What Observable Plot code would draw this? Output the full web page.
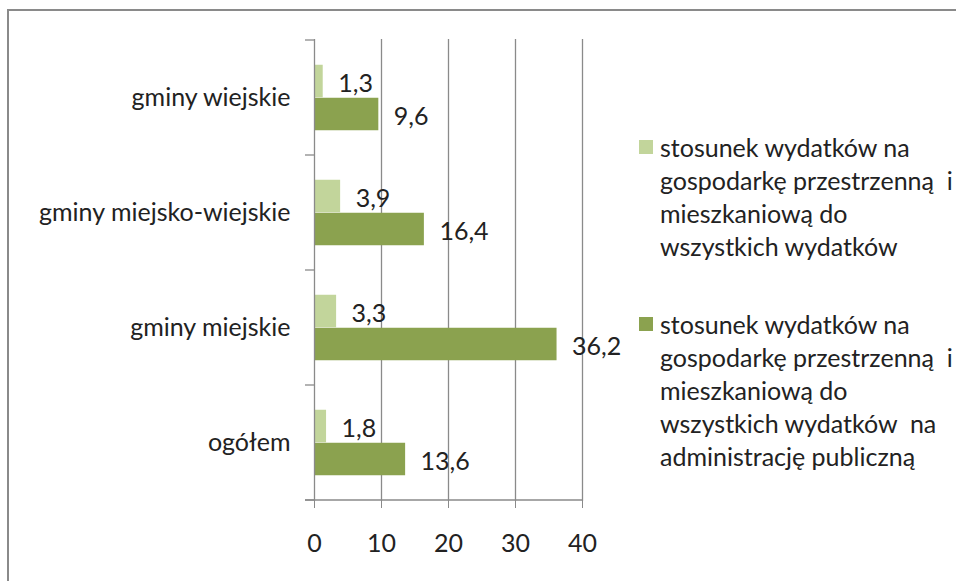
<!DOCTYPE html>
<html>
<head>
<meta charset="utf-8">
<script src="https://cdn.jsdelivr.net/npm/d3@7"></script>
<script src="https://cdn.jsdelivr.net/npm/@observablehq/plot@0.6"></script>
<style>
  html, body { margin: 0; padding: 0; background: #fff; }
  #wrap { position: relative; width: 956px; height: 581px; overflow: hidden; font-family: Lato, "Open Sans", sans-serif; }
  #border { position: absolute; left: 7px; top: 9px; width: 1000px; height: 700px; border-left: 2px solid #8a8a8a; border-top: 2px solid #8a8a8a; }
  #chart { position: absolute; left: 0; top: 0; }
  .legend { position: absolute; left: 639px; font-size: 25px; line-height: 33px; color: #222; }
  .legend .sw { position: absolute; left: 0; top: 9px; width: 14px; height: 14px; }
  .legend .tx { position: absolute; left: 21px; top: 0; white-space: pre; }
</style>
</head>
<body>
<div id="wrap">
  <div id="border"></div>
  <div id="chart"></div>
</div>
<script>
// ---- data ----
const categories = ["gminy wiejskie", "gminy miejsko-wiejskie", "gminy miejskie", "ogółem"];
const seriesLight = [1.3, 3.9, 3.3, 1.8];   // do wszystkich wydatków
const seriesDark  = [9.6, 16.4, 36.2, 13.6]; // do wydatków na administrację publiczną
const xTicks = [0, 10, 20, 30, 40];
const seriesLabels = [
  ["stosunek wydatków na", "gospodarkę przestrzenną  i", "mieszkaniową do", "wszystkich wydatków"],
  ["stosunek wydatków na", "gospodarkę przestrzenną  i", "mieszkaniową do", "wszystkich wydatków  na", "administrację publiczną"]
];
const colors = ["#c2d59b", "#8ba24f"];

const fmt = v => v.toFixed(1).replace(".", ",");
const light = categories.map((c, i) => ({category: c, value: seriesLight[i]}));
const dark  = categories.map((c, i) => ({category: c, value: seriesDark[i]}));

const W = 956, H = 581;
const ml = 314, mr = 374, mt = 39, mb = 80;
const band = (H - mt - mb) / categories.length; // 115.5
const barH = 33;
const outer = (band - 2 * barH) / 2;

const chart = Plot.plot({
  width: W,
  height: H,
  marginLeft: ml,
  marginRight: mr,
  marginTop: mt,
  marginBottom: mb,
  style: {fontFamily: "Lato, 'Open Sans', sans-serif", fontSize: "25px", color: "#222", background: "transparent", overflow: "visible"},
  x: {domain: [0, 40]},
  y: {domain: categories, padding: 0},
  marks: [
    Plot.ruleX(xTicks.slice(1), {stroke: "#8a8a8a", strokeWidth: 1.3, strokeOpacity: 1}),
    Plot.barX(light, {x: "value", y: "category", fill: colors[0], insetTop: outer, insetBottom: outer + barH}),
    Plot.barX(dark, {x: "value", y: "category", fill: colors[1], insetTop: outer + barH, insetBottom: outer}),
    Plot.ruleX([0], {stroke: "#8a8a8a", strokeWidth: 1.3, strokeOpacity: 1}),
    Plot.text(light, {x: "value", y: "category", text: d => fmt(d.value), textAnchor: "start", dx: 15, dy: -barH / 2 + 2, fill: "#222", fontSize: 25}),
    Plot.text(dark, {x: "value", y: "category", text: d => fmt(d.value), textAnchor: "start", dx: 15, dy: barH / 2 + 2, fill: "#222", fontSize: 25}),
    Plot.axisX({ticks: xTicks, tickSize: 7, tickPadding: 26, stroke: "#8a8a8a", strokeOpacity: 1, fill: "#222", label: null, tickFormat: d => String(d)}),
    Plot.axisY({tickSize: 0, tickPadding: 24, fill: "#222", label: null})
  ]
});

document.getElementById("chart").appendChild(chart);

// axis line at the bottom and category boundary ticks, positioned from Plot's scales
const xs = chart.scale("x"), ys = chart.scale("y");
const svg = d3.select(chart);
const g = svg.append("g").attr("stroke", "#8a8a8a").attr("stroke-width", 1.3);
const x0 = xs.apply(0), x40 = xs.apply(40);
const bounds = categories.map(c => ys.apply(c)).concat([ys.apply(categories[categories.length - 1]) + ys.bandwidth]);
bounds.forEach(yb => {
  g.append("line").attr("x1", x0 - 9).attr("x2", x0).attr("y1", yb).attr("y2", yb);
});
const yBottom = bounds[bounds.length - 1];
g.append("line").attr("x1", x0 - 9).attr("x2", x40).attr("y1", yBottom).attr("y2", yBottom);

// legend
const legendTops = [131, 308];
const wrap = document.getElementById("wrap");
seriesLabels.forEach((lines, i) => {
  const div = document.createElement("div");
  div.className = "legend";
  div.style.top = legendTops[i] + "px";
  const sw = document.createElement("div");
  sw.className = "sw";
  sw.style.background = colors[i];
  const tx = document.createElement("div");
  tx.className = "tx";
  tx.textContent = lines.join("\n");
  div.appendChild(sw);
  div.appendChild(tx);
  wrap.appendChild(div);
});
</script>
</body>
</html>
